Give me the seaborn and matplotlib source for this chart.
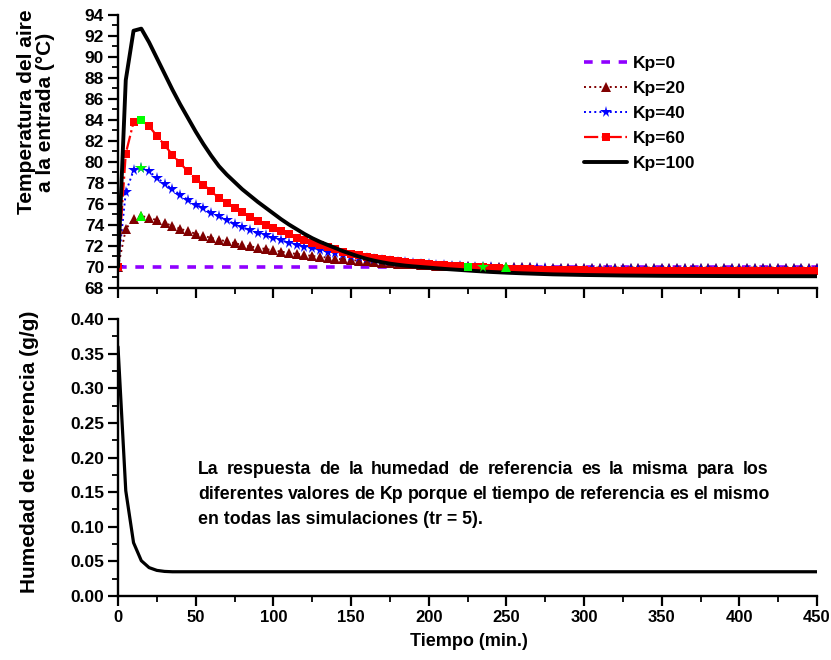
import numpy as np
import pandas as pd
import matplotlib
matplotlib.use('Agg')
import matplotlib.pyplot as plt
import seaborn as sns
from matplotlib import font_manager
from matplotlib.ticker import MultipleLocator, FormatStrFormatter

# ---------------- data ----------------
t5 = list(range(0, 455, 5))

kp0_t = [0, 450]
kp0 = [70.0, 70.0]

kp20 = [70.0, 73.6, 74.6, 74.85, 74.7, 74.45, 74.2, 73.9, 73.65, 73.4,
        73.17, 72.97, 72.77, 72.6, 72.43, 72.27, 72.1, 71.96, 71.84, 71.71,
        71.58, 71.46, 71.34, 71.24, 71.15, 71.05, 70.97, 70.89, 70.8, 70.72,
        70.66, 70.6, 70.54, 70.48, 70.42, 70.37, 70.32, 70.28, 70.24, 70.2,
        70.17, 70.14, 70.11, 70.09, 70.07, 70.05, 70.03, 70.01, 70.0, 69.99,
        69.98, 69.97, 69.96, 69.96, 69.95, 69.95, 69.95, 69.95, 69.95, 69.95,
        69.95, 69.95, 69.94, 69.94, 69.94, 69.94, 69.94, 69.94, 69.94, 69.94,
        69.94, 69.94, 69.94, 69.94, 69.94, 69.94, 69.94, 69.94, 69.94, 69.94,
        69.94, 69.94, 69.94, 69.94, 69.94, 69.94, 69.94, 69.94, 69.94, 69.94,
        69.94]

kp40 = [70.0, 77.1, 79.2, 79.45, 79.1, 78.5, 77.95, 77.4, 76.9, 76.4,
        75.95, 75.6, 75.18, 74.82, 74.44, 74.12, 73.8, 73.48, 73.22, 73.0,
        72.75, 72.53, 72.33, 72.14, 71.95, 71.79, 71.63, 71.47, 71.35, 71.2,
        71.09, 70.97, 70.87, 70.78, 70.68, 70.6, 70.52, 70.45, 70.38, 70.32,
        70.26, 70.21, 70.16, 70.12, 70.08, 70.04, 70.01, 69.98, 69.96, 69.94,
        69.92, 69.91, 69.89, 69.88, 69.87, 69.86, 69.85, 69.85, 69.84, 69.84,
        69.83, 69.83, 69.83, 69.83, 69.83, 69.83, 69.82, 69.82, 69.82, 69.82,
        69.82, 69.82, 69.82, 69.82, 69.82, 69.82, 69.82, 69.82, 69.82, 69.82,
        69.82, 69.82, 69.82, 69.82, 69.82, 69.82, 69.82, 69.82, 69.82, 69.82,
        69.82]

kp60 = [70.0, 80.8, 83.8, 84.0, 83.4, 82.5, 81.6, 80.7, 79.9, 79.1,
        78.4, 77.85, 77.2, 76.6, 76.1, 75.6, 75.2, 74.75, 74.4, 74.0,
        73.67, 73.4, 73.1, 72.8, 72.57, 72.32, 72.07, 71.87, 71.67, 71.45,
        71.27, 71.12, 70.98, 70.85, 70.74, 70.64, 70.55, 70.47, 70.4, 70.34,
        70.28, 70.23, 70.18, 70.13, 70.08, 70.04, 70.0, 69.96, 69.92, 69.88,
        69.85, 69.82, 69.79, 69.77, 69.75, 69.73, 69.71, 69.7, 69.69, 69.68,
        69.67, 69.66, 69.66, 69.65, 69.65, 69.65, 69.64, 69.64, 69.64, 69.64,
        69.64, 69.64, 69.64, 69.64, 69.64, 69.64, 69.64, 69.64, 69.64, 69.64,
        69.64, 69.64, 69.64, 69.64, 69.64, 69.64, 69.64, 69.64, 69.64, 69.64,
        69.64]

kp100_t = [0, 5, 10, 15, 20, 25, 30, 35, 40, 45, 50, 55, 60, 65, 70, 75, 80,
           85, 90, 95, 100, 105, 110, 115, 120, 125, 130, 135, 140, 145, 150,
           155, 160, 165, 170, 175, 180, 185, 190, 195, 200, 205, 210, 220,
           230, 240, 250, 260, 270, 280, 300, 325, 350, 400, 450]
kp100 = [70.0, 87.8, 92.5, 92.7, 91.4, 89.9, 88.4, 86.9, 85.5, 84.2,
         82.9, 81.7, 80.6, 79.6, 78.8, 78.1, 77.4, 76.8, 76.2, 75.65,
         75.1, 74.55, 74.05, 73.6, 73.15, 72.75, 72.4, 72.1, 71.8, 71.5,
         71.25, 71.0, 70.78, 70.6, 70.45, 70.32, 70.22, 70.13, 70.06, 70.0,
         69.94, 69.88, 69.82, 69.72, 69.62, 69.53, 69.46, 69.4, 69.35, 69.3,
         69.24, 69.19, 69.16, 69.13, 69.12]

hum_t = [0, 5, 10, 15, 20, 25, 30, 35, 40, 450]
hum = [0.36, 0.152, 0.077, 0.051, 0.041, 0.037, 0.0355, 0.035, 0.035, 0.035]

# highlighted (green) points
hl20 = [15, 250]
hl40 = [15, 235]
hl60 = [15, 225]

labels = ['Kp=0', 'Kp=20', 'Kp=40', 'Kp=60', 'Kp=100']

note_lines = [
    'La respuesta de la humedad de referencia es la misma para los',
    'diferentes valores de Kp porque el tiempo de referencia es el mismo',
    'en todas las simulaciones (tr = 5).',
]

# ---------------- style ----------------
sns.set_theme(style='white')
plt.rcParams['font.family'] = ['Liberation Sans', 'DejaVu Sans']
plt.rcParams['font.weight'] = 'bold'
plt.rcParams['axes.labelweight'] = 'bold'
for k in ('text.color', 'axes.labelcolor', 'xtick.color', 'ytick.color',
          'axes.edgecolor'):
    plt.rcParams[k] = 'black'

installed = {f.name for f in font_manager.fontManager.ttflist}
if 'Liberation Sans Narrow' in installed:
    NARROW = ['Liberation Sans Narrow', 'Liberation Sans']
    XFS = 14
    XLFS = 15.5
else:
    NARROW = ['Liberation Sans', 'DejaVu Sans']
    XFS = 12
    XLFS = 13

W, H = 831, 660
fig = plt.figure(figsize=(W / 100, H / 100), dpi=100)


def rect(x0, y0, x1, y1):
    return [x0 / W, 1 - y1 / H, (x1 - x0) / W, (y1 - y0) / H]


ax1 = fig.add_axes(rect(118, 15, 817, 288))
ax2 = fig.add_axes(rect(118, 319, 817, 596))

C0 = '#8F00FF'
C20 = '#800000'
C40 = '#0000FF'
C60 = '#FF0000'
GREEN = '#00FF00'

# Kp=0
sns.lineplot(x=kp0_t, y=kp0, ax=ax1, color=C0, lw=2.6, label=labels[0],
             errorbar=None, sort=False)
ax1.lines[-1].set_dashes((2.4, 2.4))

# Kp=20
sns.lineplot(x=t5, y=kp20, ax=ax1, color=C20, lw=1.4, linestyle=':',
             marker='^', markersize=6.5, markeredgewidth=0, label=labels[1],
             errorbar=None, sort=False)
# Kp=40
sns.lineplot(x=t5, y=kp40, ax=ax1, color=C40, lw=1.4, linestyle=':',
             marker='*', markersize=8.5, markeredgewidth=0, label=labels[2],
             errorbar=None, sort=False)
# Kp=60
sns.lineplot(x=t5, y=kp60, ax=ax1, color=C60, lw=1.6, linestyle='-.',
             marker='s', markersize=6, markeredgewidth=0, label=labels[3],
             errorbar=None, sort=False)
# Kp=100
sns.lineplot(x=kp100_t, y=kp100, ax=ax1, color='black', lw=2.8,
             label=labels[4], errorbar=None, sort=False)

# green highlighted points
for hl, ser, mk, ms in [(hl20, kp20, '^', 6.5), (hl40, kp40, '*', 8.5),
                        (hl60, kp60, 's', 6)]:
    ys = [ser[t5.index(t)] for t in hl]
    ax1.plot(hl, ys, linestyle='none', marker=mk, markersize=ms,
             markeredgewidth=0, color=GREEN, zorder=5)

# humidity
sns.lineplot(x=hum_t, y=hum, ax=ax2, color='black', lw=2.3, errorbar=None,
             sort=False)

# ---------------- axes ----------------
for ax in (ax1, ax2):
    ax.set_xlim(0, 450)
    ax.xaxis.set_major_locator(MultipleLocator(50))
    ax.xaxis.set_minor_locator(MultipleLocator(25))
    for s in ('top', 'right'):
        ax.spines[s].set_visible(False)
    for s in ('left', 'bottom'):
        ax.spines[s].set_linewidth(1.7)
        ax.spines[s].set_color('black')
    ax.tick_params(which='major', direction='out', length=7, width=1.6,
                   color='black', labelcolor='black', pad=3,
                   bottom=True, left=True)
    ax.tick_params(which='minor', direction='out', length=4, width=1.3,
                   color='black', bottom=True, left=True)
    ax.set_xlabel('')
    ax.set_ylabel('')
    ax.grid(False)
    ax.patch.set_alpha(0)

ax1.set_ylim(68, 94)
ax1.yaxis.set_major_locator(MultipleLocator(2))
ax1.yaxis.set_minor_locator(MultipleLocator(1))
ax1.tick_params(axis='x', labelbottom=False)

ax2.set_ylim(0, 0.40)
ax2.yaxis.set_major_locator(MultipleLocator(0.05))
ax2.yaxis.set_minor_locator(MultipleLocator(0.025))
ax2.yaxis.set_major_formatter(FormatStrFormatter('%.2f'))

for ax in (ax1, ax2):
    for lab in ax.get_yticklabels():
        lab.set_fontweight('bold')
        lab.set_fontsize(12.5)
    for lab in ax.get_xticklabels():
        lab.set_fontweight('bold')
        lab.set_fontsize(XFS)
        lab.set_family(NARROW)

# legend
if ax2.get_legend():
    ax2.get_legend().remove()
h, l = ax1.get_legend_handles_labels()
leg = ax1.legend(h, l, loc='upper left', bbox_to_anchor=(584 / W, 1 - 56 / H),
                 bbox_transform=fig.transFigure, frameon=False,
                 prop={'weight': 'bold', 'size': 12.5}, handlelength=2.5,
                 handletextpad=0.3, labelspacing=0.56, borderpad=0,
                 borderaxespad=0)

# axis titles
fig.text(36 / W, 1 - 112 / H, 'Temperatura del aire\na la entrada (°C)',
         rotation=90, ha='center', va='center', fontsize=15,
         fontweight='bold', multialignment='center', linespacing=1.05)
fig.text(30 / W, 1 - 452 / H, 'Humedad de referencia (g/g)', rotation=90,
         ha='center', va='center', fontsize=15, fontweight='bold')
fig.text(469 / W, 1 - 641 / H, 'Tiempo (min.)', ha='center', va='center',
         fontsize=XLFS, fontweight='bold', family=NARROW)

# justified annotation
renderer = fig.canvas.get_renderer()
probe = fig.text(0, 0, note_lines[2], fontsize=10, fontweight='bold')
wprobe = probe.get_window_extent(renderer).width
probe.remove()
fs_note = 10 * 284 / wprobe

x_left = 198
right_edges = [768, 770, None]
baselines = [474, 499, 524]
for line, xr, yb in zip(note_lines, right_edges, baselines):
    if xr is None:
        fig.text(x_left / W, 1 - yb / H, line, fontsize=fs_note,
                 fontweight='bold', ha='left', va='baseline')
        continue
    words = line.split(' ')
    ts = [fig.text(0, 1 - yb / H, w, fontsize=fs_note, fontweight='bold',
                   ha='left', va='baseline') for w in words]
    widths = [t.get_window_extent(renderer).width for t in ts]
    gap = ((xr - x_left) - sum(widths)) / (len(words) - 1)
    x = x_left
    for t, w in zip(ts, widths):
        t.set_x(x / W)
        x += w + gap

fig.savefig('out.png', dpi=100)
